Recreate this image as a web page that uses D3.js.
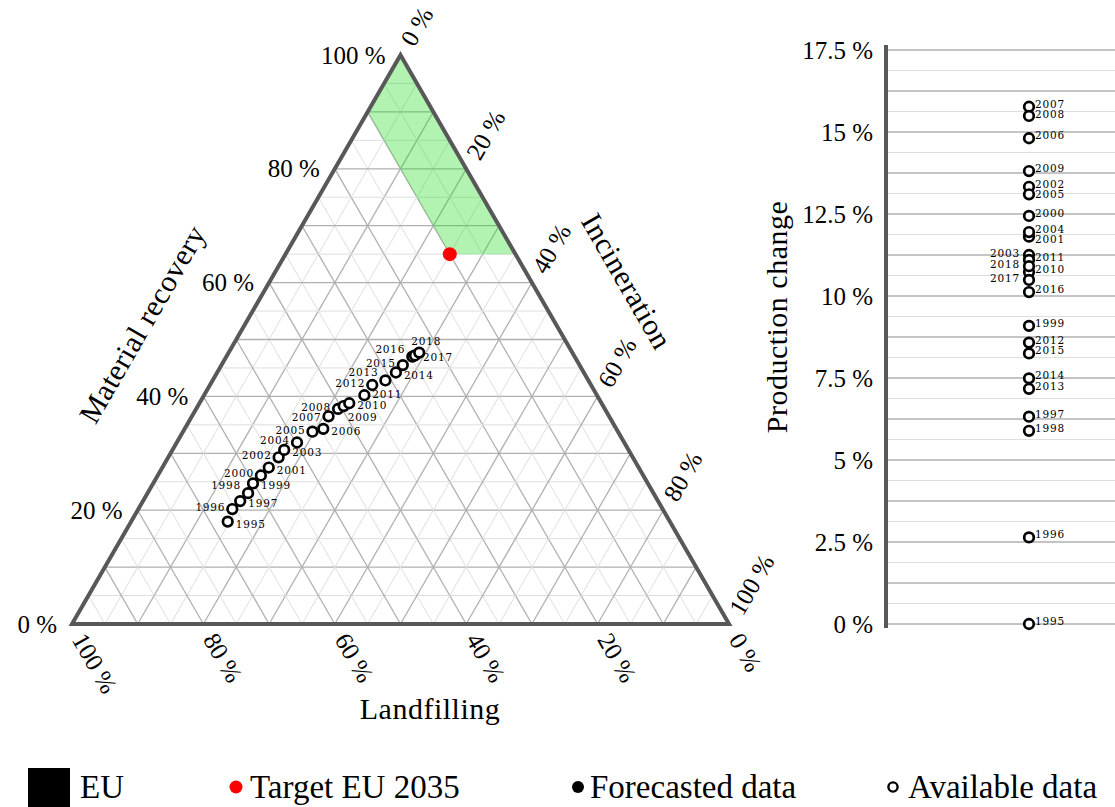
<!DOCTYPE html>
<html>
<head>
<meta charset="utf-8">
<script src="https://cdn.jsdelivr.net/npm/d3@7"></script>
<style>
  body { margin: 0; background: #fff; }
  text { font-family: "Liberation Serif", "Times New Roman", serif; fill: #000; }
  text.year { font-family: "DejaVu Serif", serif; }
</style>
</head>
<body>
<div id="chart"></div>
<script>
// Data
var years = [1995, 1996, 1997, 1998, 1999, 2000, 2001, 2002, 2003, 2004, 2005, 2006,
             2007, 2008, 2009, 2010, 2011, 2012, 2013, 2014, 2015, 2016, 2017, 2018];
var materialRecovery = [18.0, 20.2, 21.6, 23.0, 24.7, 26.1, 27.5, 29.3, 30.6, 31.9, 33.8, 34.3,
                        36.5, 37.8, 38.3, 38.8, 40.2, 42.0, 42.8, 44.2, 45.5, 47.0, 47.2, 47.7];
var incineration = [14.7, 14.3, 14.8, 15.3, 15.2, 15.7, 16.2, 16.8, 17.0, 18.3, 19.7, 21.1,
                    20.8, 21.6, 22.2, 22.8, 24.4, 24.7, 26.3, 27.2, 27.6, 28.3, 28.6, 29.0];
var landfilling = [67.3, 65.5, 63.6, 61.7, 60.1, 58.2, 56.3, 53.9, 52.4, 49.8, 46.5, 44.6,
                   42.7, 40.6, 39.5, 38.4, 35.4, 33.3, 30.9, 28.6, 26.9, 24.7, 24.2, 23.3];
var productionChange = [0.0, 2.64, 6.32, 5.89, 9.09, 12.44, 11.81, 13.33, 11.25, 11.95, 13.10, 14.81,
                        15.77, 15.49, 13.81, 10.73, 11.10, 8.58, 7.17, 7.49, 8.25, 10.12, 10.49, 10.91];

// EU 2035 target: landfilling at most 10 %, material recovery at least 65 %
var targetLandfilling = 10;
var targetIncineration = 25;
var targetMaterialRecovery = 65;

var ternaryTicks = [0, 20, 40, 60, 80, 100];
var changeTicks = [0, 2.5, 5, 7.5, 10, 12.5, 15, 17.5];
var legendLabels = ["EU", "Target EU 2035", "Forecasted data", "Available data"];

// label placement for the year annotations
var ternLabelSide = {
  1995: "r", 1996: "l", 1997: "r", 1998: "tl", 1999: "r", 2000: "l", 2001: "r", 2002: "l",
  2003: "r", 2004: "l", 2005: "l", 2006: "r", 2007: "lb", 2008: "l", 2009: "br", 2010: "r",
  2011: "rt", 2012: "l", 2013: "tl", 2014: "r", 2015: "l", 2016: "tl", 2017: "r", 2018: "t"
};
var sideOffset = {
  l:  { dx: -7, dy: -2, anchor: "end" },
  lb: { dx: -7, dy: 1, anchor: "end" },
  tl: { dx: -7, dy: -8, anchor: "end" },
  r:  { dx: 8, dy: 2, anchor: "start" },
  rt: { dx: 8, dy: -1, anchor: "start" },
  br: { dx: 4, dy: 11, anchor: "start" },
  t:  { dx: 7, dy: -12, anchor: "middle" }
};
var changeLabelLeft = [2003, 2017, 2018];

var width = 1115, height = 807;
var edgeColor = "#585858";
var serif = '"Liberation Serif", "Times New Roman", serif';

var svg = d3.select("#chart").append("svg")
  .attr("width", width)
  .attr("height", height);

// ---------- ternary plot ----------
var tri = { left: 72, right: 729, top: 55, bottom: 624 };
var s3 = Math.sqrt(3) / 2;
var xT = d3.scaleLinear().domain([0, 1]).range([tri.left, tri.right]);
var yT = d3.scaleLinear().domain([0, s3]).range([tri.bottom, tri.top]);

// l = landfilling, i = incineration, m = material recovery (percent)
function proj(l, i, m) {
  var t = l + i + m;
  var a = i / t, c = m / t;
  return [xT(a + c / 2), yT(c * s3)];
}

var tern = svg.append("g").attr("class", "ternary");

// grid
var gridG = tern.append("g");
d3.range(5, 100, 5).forEach(function(k) {
  var major = k % 10 === 0;
  var segs = [
    [proj(100 - k, 0, k), proj(0, 100 - k, k)],       // material recovery = k
    [proj(k, 100 - k, 0), proj(k, 0, 100 - k)],       // landfilling = k
    [proj(100 - k, k, 0), proj(0, k, 100 - k)]        // incineration = k
  ];
  segs.forEach(function(s) {
    gridG.append("line")
      .attr("x1", s[0][0]).attr("y1", s[0][1])
      .attr("x2", s[1][0]).attr("y2", s[1][1])
      .attr("stroke", major ? "#b0b0b0" : "#dedede")
      .attr("stroke-width", major ? 1.3 : 1);
  });
});

// target area
var targetArea = [
  proj(0, 0, 100),
  proj(0, 100 - targetMaterialRecovery, targetMaterialRecovery),
  proj(targetLandfilling, 100 - targetMaterialRecovery - targetLandfilling, targetMaterialRecovery),
  proj(targetLandfilling, 0, 100 - targetLandfilling)
];
tern.append("path")
  .attr("d", d3.line()(targetArea) + "Z")
  .attr("fill", "#22dd22")
  .attr("fill-opacity", 0.35);

// border
var corners = [proj(100, 0, 0), proj(0, 100, 0), proj(0, 0, 100)];
tern.append("path")
  .attr("d", d3.line()(corners) + "Z")
  .attr("fill", "none")
  .attr("stroke", edgeColor)
  .attr("stroke-width", 4)
  .attr("stroke-linejoin", "miter");

// tick labels
var tickFont = 25;
var off = 13;
ternaryTicks.forEach(function(v) {
  // material recovery (left edge)
  var p = proj(100 - v, 0, v);
  tern.append("text")
    .attr("x", p[0] - 15).attr("y", p[1])
    .attr("text-anchor", "end")
    .attr("dominant-baseline", "central")
    .style("font-size", tickFont + "px")
    .text(v + " %");
  // landfilling (bottom edge)
  p = proj(v, 100 - v, 0);
  tern.append("text")
    .attr("transform", "translate(" + (p[0] + off * 0.5) + "," + (p[1] + off * 0.866) + ") rotate(60)")
    .attr("dominant-baseline", "central")
    .style("font-size", tickFont + "px")
    .text(v + " %");
  // incineration (right edge)
  p = proj(0, v, 100 - v);
  tern.append("text")
    .attr("transform", "translate(" + (p[0] + off * 0.5) + "," + (p[1] - off * 0.866) + ") rotate(-60)")
    .attr("dominant-baseline", "central")
    .style("font-size", tickFont + "px")
    .text(v + " %");
});

// axis titles
var titleFont = 30;
tern.append("text")
  .attr("transform", "translate(142,324) rotate(-60)")
  .attr("text-anchor", "middle")
  .attr("dominant-baseline", "central")
  .style("font-size", titleFont + "px")
  .style("letter-spacing", "0.5px")
  .text("Material recovery");
tern.append("text")
  .attr("transform", "translate(627,281) rotate(60)")
  .attr("text-anchor", "middle")
  .attr("dominant-baseline", "central")
  .style("font-size", titleFont + "px")
  .style("letter-spacing", "0.5px")
  .text("Incineration");
tern.append("text")
  .attr("x", 430).attr("y", 719)
  .attr("text-anchor", "middle")
  .style("font-size", titleFont + "px")
  .style("letter-spacing", "0.5px")
  .text("Landfilling");

// data points
var ternData = years.map(function(y, k) {
  var p = proj(landfilling[k], incineration[k], materialRecovery[k]);
  return { year: y, x: p[0], y: p[1] };
});

tern.append("g").selectAll("circle")
  .data(ternData)
  .enter().append("circle")
  .attr("cx", d => d.x)
  .attr("cy", d => d.y)
  .attr("r", 4.8)
  .attr("fill", "#fff")
  .attr("stroke", "#000")
  .attr("stroke-width", 2.7);

var yearFont = 10.5;
var yearSpacing = "0.8px";
tern.append("g").selectAll("text")
  .data(ternData)
  .enter().append("text")
  .attr("class", "year")
  .attr("x", d => d.x + sideOffset[ternLabelSide[d.year]].dx)
  .attr("y", d => d.y + sideOffset[ternLabelSide[d.year]].dy)
  .attr("text-anchor", d => sideOffset[ternLabelSide[d.year]].anchor)
  .attr("dominant-baseline", "central")
  .style("font-size", yearFont + "px")
  .style("letter-spacing", yearSpacing)
  .text(d => d.year);

// target point
var tp = proj(targetLandfilling, targetIncineration, targetMaterialRecovery);
tern.append("circle")
  .attr("cx", tp[0]).attr("cy", tp[1])
  .attr("r", 7)
  .attr("fill", "#ff0000");

// ---------- production change panel ----------
var axisX = 886;
var yC = d3.scaleLinear().domain([0, 17.5]).range([624, 50]);

var side = svg.append("g").attr("class", "change");

d3.range(0, 17.5 + 0.001, 0.625).forEach(function(v) {
  var major = Math.abs(v / 1.25 - Math.round(v / 1.25)) < 1e-6;
  side.append("line")
    .attr("x1", axisX).attr("x2", width)
    .attr("y1", yC(v)).attr("y2", yC(v))
    .attr("stroke", major ? "#b0b0b0" : "#dedede")
    .attr("stroke-width", major ? 1.3 : 1);
});

var leftAxis = d3.axisLeft(yC)
  .tickValues(changeTicks)
  .tickSize(0)
  .tickPadding(13)
  .tickFormat(d => d + " %");

var yAxis = side.append("g")
  .attr("transform", "translate(" + axisX + ",0)")
  .call(leftAxis);
yAxis.select(".domain").remove();
yAxis.selectAll("text")
  .style("font-size", tickFont + "px")
  .style("font-family", serif)
  .attr("fill", "#000");

side.append("line")
  .attr("x1", axisX).attr("x2", axisX)
  .attr("y1", 45).attr("y2", 628)
  .attr("stroke", edgeColor)
  .attr("stroke-width", 4);

side.append("text")
  .attr("transform", "translate(776,317) rotate(-90)")
  .attr("text-anchor", "middle")
  .attr("dominant-baseline", "central")
  .style("font-size", titleFont + "px")
  .style("letter-spacing", "0.5px")
  .text("Production change");

var changeX = 1029;
var changeData = years.map(function(y, k) {
  return { year: y, v: productionChange[k], y: yC(productionChange[k]) };
});

side.append("g").selectAll("circle")
  .data(changeData)
  .enter().append("circle")
  .attr("cx", changeX)
  .attr("cy", d => d.y)
  .attr("r", 4.8)
  .attr("fill", "#fff")
  .attr("stroke", "#000")
  .attr("stroke-width", 2.7);

// stack the right-hand labels so they do not overlap
var rightLabels = changeData.filter(d => changeLabelLeft.indexOf(d.year) < 0)
  .sort((a, b) => a.y - b.y);
var prev = -Infinity;
rightLabels.forEach(function(d) {
  d.ly = Math.max(d.y - 3, prev + 10);
  prev = d.ly;
});

side.append("g").selectAll("text")
  .data(rightLabels)
  .enter().append("text")
  .attr("class", "year")
  .attr("x", changeX + 6)
  .attr("y", d => d.ly)
  .attr("dominant-baseline", "central")
  .style("font-size", yearFont + "px")
  .style("letter-spacing", yearSpacing)
  .text(d => d.year);

side.append("g").selectAll("text")
  .data(changeData.filter(d => changeLabelLeft.indexOf(d.year) >= 0))
  .enter().append("text")
  .attr("class", "year")
  .attr("x", changeX - 9)
  .attr("y", d => d.y - 2)
  .attr("text-anchor", "end")
  .attr("dominant-baseline", "central")
  .style("font-size", yearFont + "px")
  .style("letter-spacing", yearSpacing)
  .text(d => d.year);

// ---------- legend ----------
var legendFont = 33;
var legY = 787;
var legend = svg.append("g").attr("class", "legend");

legend.append("rect")
  .attr("x", 28).attr("y", 768)
  .attr("width", 42).attr("height", 39)
  .attr("fill", "#000");
legend.append("circle").attr("cx", 236).attr("cy", legY).attr("r", 6.5).attr("fill", "#ff0000");
legend.append("circle").attr("cx", 578).attr("cy", legY).attr("r", 6).attr("fill", "#000");
legend.append("circle").attr("cx", 893).attr("cy", legY).attr("r", 4.6)
  .attr("fill", "#fff").attr("stroke", "#000").attr("stroke-width", 2.4);

var legendX = [80, 250, 590, 908];
legend.selectAll("text.leg")
  .data(legendLabels)
  .enter().append("text")
  .attr("class", "leg")
  .attr("x", (d, i) => legendX[i])
  .attr("y", 798)
  .style("font-size", legendFont + "px")
  .text(d => d);
</script>
</body>
</html>
